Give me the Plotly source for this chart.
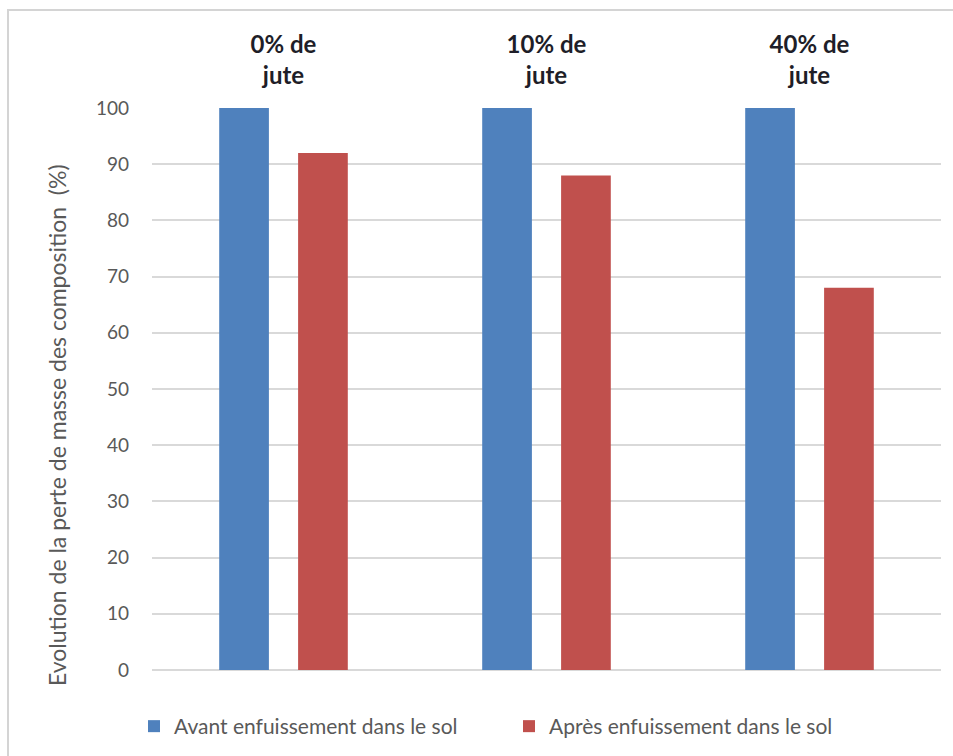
import plotly.graph_objects as go

# Jute content of each composition (category labels, shown above the plot)
categories = ["0% de<br>jute", "10% de<br>jute", "40% de<br>jute"]
# Relative mass (%) before and after burial in soil
avant = [100, 100, 100]
apres = [92, 88, 68]
series_names = ["Avant enfuissement dans le sol", "Après enfuissement dans le sol"]
y_ticks = [0, 10, 20, 30, 40, 50, 60, 70, 80, 90, 100]
y_title = "Evolution de la perte de masse des composition  (%)"

BLUE = "#4F81BD"
RED = "#C0504D"
GRID = "#D9D9D9"
TEXT = "#595959"
FONT = "Lato"

W, H = 953, 756
ML, MR, MT, MB = 152, 12, 108, 86
PW, PH = W - ML - MR, H - MT - MB

fig = go.Figure()
fig.add_trace(go.Bar(x=categories, y=avant, name=series_names[0],
                     marker=dict(color=BLUE, line=dict(width=0))))
fig.add_trace(go.Bar(x=categories, y=apres, name=series_names[1],
                     marker=dict(color=RED, line=dict(width=0))))

# pixel -> paper coordinate helpers
def px_x(p):
    return (p - ML) / PW

def px_y(p):
    return (H - MB - p) / PH

# light frame around the whole chart area
fig.add_shape(type="rect", xref="paper", yref="paper",
              x0=px_x(8), x1=px_x(990), y0=px_y(790), y1=px_y(10),
              line=dict(color="#D4D4D4", width=2), fillcolor="rgba(0,0,0,0)",
              layer="below")

# vertical axis title, centred on the chart area
fig.add_annotation(text=y_title, textangle=-90, showarrow=False,
                   xref="paper", yref="paper",
                   x=px_x(57), y=px_y(425), xanchor="center", yanchor="middle",
                   font=dict(family=FONT, size=23, color=TEXT))

fig.update_layout(
    width=W, height=H,
    margin=dict(l=ML, r=MR, t=MT, b=MB, autoexpand=False),
    paper_bgcolor="white", plot_bgcolor="white",
    barmode="group", bargap=0.40, bargroupgap=0.37,
    font=dict(family=FONT, color=TEXT, size=19),
    showlegend=True,
    legend=dict(orientation="h", x=px_x(134), xanchor="left",
                y=px_y(706), yanchor="top",
                entrywidth=330, entrywidthmode="pixels",
                font=dict(family=FONT, size=21, color=TEXT),
                bgcolor="rgba(0,0,0,0)"),
    xaxis=dict(side="top", showgrid=False, zeroline=False, showline=False,
               ticks="", ticklabelstandoff=18,
               tickfont=dict(family=FONT, size=24, color="#1E1E28", weight="bold")),
    yaxis=dict(range=[0, 100], tickvals=y_ticks, showgrid=True,
               gridcolor=GRID, gridwidth=1.5, zeroline=True,
               zerolinecolor=GRID, zerolinewidth=1.5, showline=False,
               ticks="", ticklabelstandoff=22,
               tickfont=dict(family=FONT, size=19, color=TEXT)),
)

fig.write_html("out.html")
